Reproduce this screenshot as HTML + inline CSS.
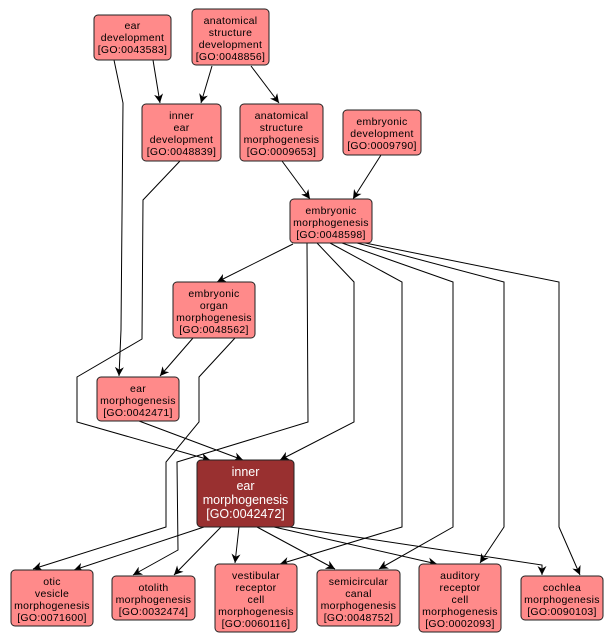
<!DOCTYPE html>
<html><head><meta charset="utf-8"><style>
html,body{margin:0;padding:0;background:#fff;}
svg{display:block;}
text{font-family:"Liberation Sans",sans-serif;font-size:10.5px;fill:#000;text-anchor:middle;letter-spacing:0.3px;}
.w{fill:#fff;font-size:12.5px;letter-spacing:0;}
.n{fill:#ff8a8a;stroke:#222;stroke-width:1;}
.d{fill:#993030;stroke:#222;stroke-width:1;}
.e{fill:none;stroke:#000;stroke-width:1;}
</style></head><body>
<svg width="611" height="644" viewBox="0 0 611 644" xmlns="http://www.w3.org/2000/svg">
<defs><marker id="a" viewBox="0 0 10 10" refX="10" refY="5" markerWidth="9" markerHeight="9" orient="auto" markerUnits="userSpaceOnUse"><path d="M0,0 L10,5 L0,10 L3,5 z" fill="#000"/></marker></defs>
<g class="e" marker-end="url(#a)">
<polyline points="114,60 123,103 121,330 119,376"/>
<polyline points="153,60 160,103"/>
<polyline points="212,66 201,103"/>
<polyline points="251,66 279,103"/>
<polyline points="180,161 143,200 142,339 77,377 77,422 210,460"/>
<polyline points="282,161 310,199"/>
<polyline points="381,155 353,199"/>
<polyline points="293,244 217,282"/>
<polyline points="193,338 160,376"/>
<polyline points="235,338 199,377 199,422 166,462 166,527 33,569"/>
<polyline points="307,243 308,422 177,462 178,550 133,575"/>
<polyline points="139,421 243,460"/>
<polyline points="317,243 354,282 354,422 280,460"/>
<polyline points="330,243 402,282 402,527 280,564"/>
<polyline points="342,243 453,282 453,527 379,569"/>
<polyline points="357,243 504,282 504,527 480,563"/>
<polyline points="365,243 559,282 559,527 580,575"/>
<polyline points="204,527 74,570"/>
<polyline points="221,527 174,575"/>
<polyline points="239,527 235,563"/>
<polyline points="257,527 335,569"/>
<polyline points="274,527 437,564"/>
<polyline points="290,527 542,565 542,575"/>
</g>
<rect class="n" x="94" y="15" width="77" height="45" rx="4"/>
<text x="132.5" y="29">ear</text><text x="132.5" y="41">development</text><text x="132.5" y="53">[GO:0043583]</text>
<rect class="n" x="192" y="9" width="77" height="56" rx="4"/>
<text x="230.5" y="24">anatomical</text><text x="230.5" y="36">structure</text><text x="230.5" y="48">development</text><text x="230.5" y="60">[GO:0048856]</text>
<rect class="n" x="142" y="104" width="79" height="57" rx="4"/>
<text x="181.5" y="119">inner</text><text x="181.5" y="131">ear</text><text x="181.5" y="143">development</text><text x="181.5" y="155">[GO:0048839]</text>
<rect class="n" x="240" y="104" width="83" height="57" rx="4"/>
<text x="281.5" y="119">anatomical</text><text x="281.5" y="131">structure</text><text x="281.5" y="143">morphogenesis</text><text x="281.5" y="155">[GO:0009653]</text>
<rect class="n" x="343" y="110" width="78" height="45" rx="4"/>
<text x="382" y="125">embryonic</text><text x="382" y="137">development</text><text x="382" y="149">[GO:0009790]</text>
<rect class="n" x="290" y="199" width="82" height="44" rx="4"/>
<text x="331" y="214">embryonic</text><text x="331" y="226">morphogenesis</text><text x="331" y="238">[GO:0048598]</text>
<rect class="n" x="173" y="282" width="82" height="56" rx="4"/>
<text x="214" y="297">embryonic</text><text x="214" y="309">organ</text><text x="214" y="321">morphogenesis</text><text x="214" y="333">[GO:0048562]</text>
<rect class="n" x="97" y="377" width="82" height="44" rx="4"/>
<text x="138" y="392">ear</text><text x="138" y="404">morphogenesis</text><text x="138" y="416">[GO:0042471]</text>
<rect class="d" x="197" y="460" width="97" height="67" rx="4"/>
<text class="w" x="245.5" y="476">inner</text><text class="w" x="245.5" y="490">ear</text><text class="w" x="245.5" y="504">morphogenesis</text><text class="w" x="245.5" y="518">[GO:0042472]</text>
<rect class="n" x="11" y="570" width="82" height="56" rx="4"/>
<text x="52" y="585">otic</text><text x="52" y="597">vesicle</text><text x="52" y="609">morphogenesis</text><text x="52" y="621">[GO:0071600]</text>
<rect class="n" x="112" y="576" width="83" height="44" rx="4"/>
<text x="153.5" y="591">otolith</text><text x="153.5" y="603">morphogenesis</text><text x="153.5" y="615">[GO:0032474]</text>
<rect class="n" x="215" y="564" width="82" height="68" rx="4"/>
<text x="256" y="579">vestibular</text><text x="256" y="591">receptor</text><text x="256" y="603">cell</text><text x="256" y="615">morphogenesis</text><text x="256" y="627">[GO:0060116]</text>
<rect class="n" x="317" y="570" width="83" height="56" rx="4"/>
<text x="358.5" y="585">semicircular</text><text x="358.5" y="597">canal</text><text x="358.5" y="609">morphogenesis</text><text x="358.5" y="621">[GO:0048752]</text>
<rect class="n" x="419" y="564" width="82" height="68" rx="4"/>
<text x="460" y="579">auditory</text><text x="460" y="591">receptor</text><text x="460" y="603">cell</text><text x="460" y="615">morphogenesis</text><text x="460" y="627">[GO:0002093]</text>
<rect class="n" x="521" y="576" width="82" height="44" rx="4"/>
<text x="562" y="591">cochlea</text><text x="562" y="603">morphogenesis</text><text x="562" y="615">[GO:0090103]</text>
</svg>
</body></html>
